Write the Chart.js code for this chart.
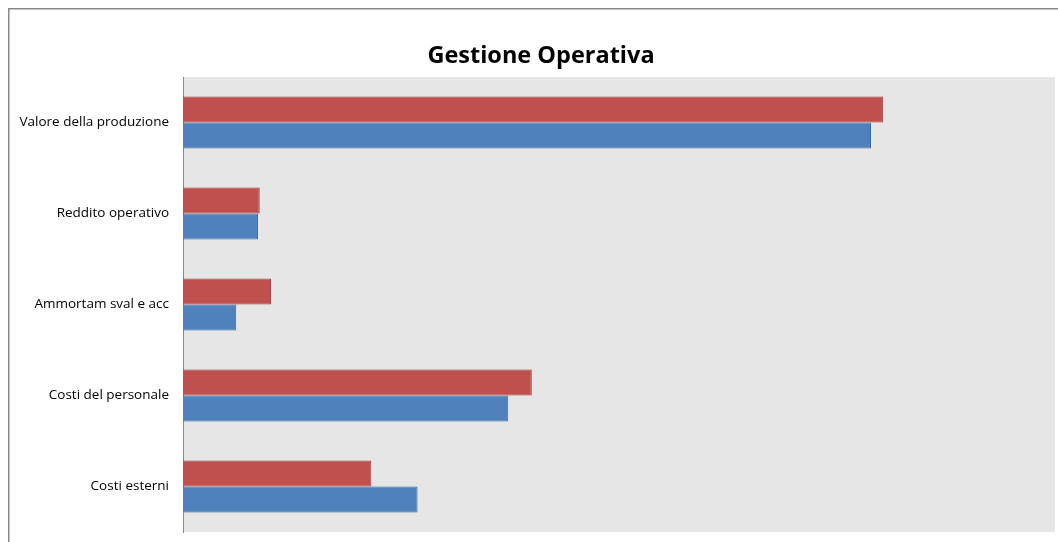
<!DOCTYPE html>
<html>
<head>
<meta charset="utf-8">
<script src="https://cdn.jsdelivr.net/npm/chart.js@4.4.0/dist/chart.umd.min.js"></script>
<style>
  html, body { margin: 0; padding: 0; background: #fff; overflow: hidden; }
  #wrap { position: absolute; left: 0; top: 0; width: 1058px; height: 542px; }
</style>
</head>
<body>
<div id="wrap"><canvas id="chart"></canvas></div>
<script>
// categorie (dall'alto verso il basso)
const categories = ['Valore della produzione', 'Reddito operativo', 'Ammortam sval e acc', 'Costi del personale', 'Costi esterni'];
// valori stimati dal grafico (scala arbitraria 0-1000)
const serieRossa = [803, 88, 101, 400, 216];
const serieBlu = [789, 86, 61, 373, 269];
const titolo = 'Gestione Operativa';

// sfondo grigio dell'area del grafico, cornice e titolo
const sfondo = {
    id: 'sfondo',
    beforeDraw(chart) {
        const ctx = chart.ctx;
        const a = chart.chartArea;
        ctx.save();
        ctx.fillStyle = '#e6e6e6';
        ctx.fillRect(a.left, a.top, a.right - a.left, a.bottom - a.top);
        ctx.strokeStyle = '#8a8a8a';
        ctx.lineWidth = 1.5;
        ctx.beginPath();
        ctx.moveTo(8.75, 600);
        ctx.lineTo(8.75, 8.75);
        ctx.lineTo(1100, 8.75);
        ctx.stroke();
        ctx.fillStyle = '#000';
        ctx.font = 'bold 23.5px "Open Sans"';
        ctx.textAlign = 'center';
        ctx.textBaseline = 'middle';
        ctx.fillText(titolo, 541, 56);
        ctx.restore();
    }
};

const ctx = document.getElementById('chart').getContext('2d');
const chart = new Chart(ctx, {
    type: 'bar',
    data: {
        labels: categories,
        datasets: [{
            label: 'Serie 1',
            data: serieRossa,
            backgroundColor: '#c0504d',
            borderColor: '#9d3e3b',
            borderWidth: 1
        }, {
            label: 'Serie 2',
            data: serieBlu,
            backgroundColor: '#4f81bd',
            borderColor: '#3d6a9f',
            borderWidth: 1
        }]
    },
    options: {
        indexAxis: 'y',
        responsive: true,
        maintainAspectRatio: false,
        animation: false,
        categoryPercentage: 0.57,
        barPercentage: 1,
        layout: { padding: { top: 77, right: 3, bottom: 10, left: 0 } },
        plugins: {
            legend: { display: false },
            tooltip: { enabled: false },
            title: { display: false }
        },
        scales: {
            x: {
                display: false,
                min: 0,
                max: 1000
            },
            y: {
                grid: { display: false, drawTicks: false },
                border: { display: true, color: '#8a8a8a', width: 1 },
                ticks: {
                    color: '#000',
                    padding: 14,
                    font: { family: 'Open Sans', size: 13.5 }
                },
                afterFit(scale) {
                    scale.width = 183;
                    scale.paddingTop = 0;
                    scale.paddingBottom = 0;
                }
            }
        }
    },
    plugins: [sfondo]
});
</script>
</body>
</html>
